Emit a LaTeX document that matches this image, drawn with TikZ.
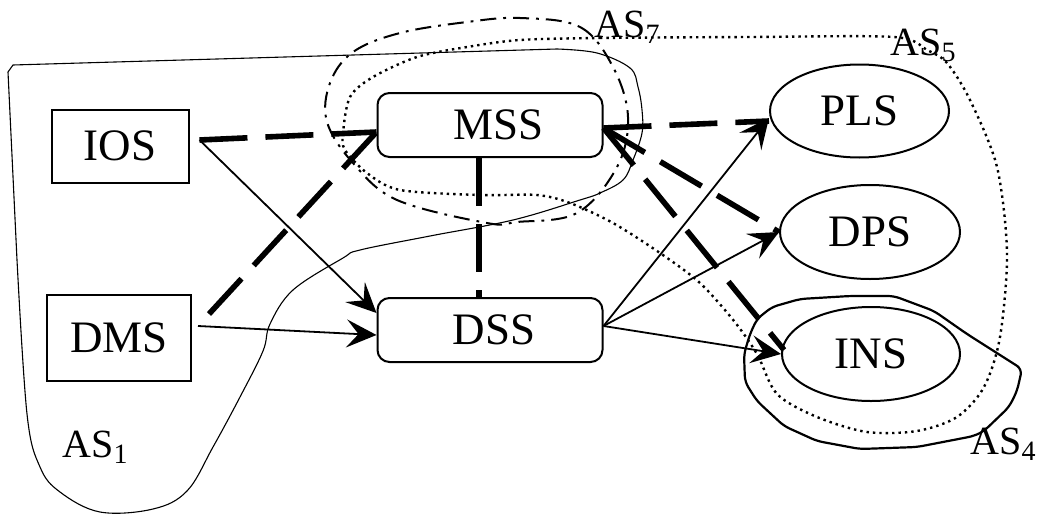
\documentclass[tikz,border=0pt]{standalone}
\usepackage{fontspec}
\setmainfont{Liberation Serif}
\usetikzlibrary{arrows.meta,shapes.geometric}
\begin{document}
\begin{tikzpicture}[x=0.5pt,y=-0.5pt,
  nodefont/.style={font=\fontsize{22.5}{27}\selectfont},
  sq/.style={nodefont,draw,line width=1pt,inner sep=0pt},
  rbox/.style={nodefont,draw,rounded corners=6pt,line width=1pt,inner sep=0pt,minimum width=112.5pt,minimum height=32pt},
  oval/.style={nodefont,draw,ellipse,line width=1pt,inner sep=0pt,minimum width=89.5pt,minimum height=46.5pt},
  flow/.style={line width=0.9pt,-{Stealth[length=15pt,width=14pt,inset=6pt]}},
  ctrl/.style={line width=2.8pt,dash pattern=on 24pt off 9pt},
  lbl/.style={font=\fontsize{20}{24}\selectfont,inner sep=0pt,anchor=base west},
  regA/.style={line width=0.55pt},
  regB/.style={line width=1.2pt,dash pattern=on 1.2pt off 2pt},
  regC/.style={line width=1pt,dash pattern=on 8pt off 3.5pt on 1.4pt off 3.5pt},
  regD/.style={line width=1.1pt}]
\useasboundingbox (0,0) rectangle (1037,514);

% regions
\draw[regA] (13,65) -- (557,49) -- plot[smooth,tension=0.6] coordinates {(557,49) (597,53) (630,68) (638,87) (642,110) (642,133) (633,160) (623,180) (600,193) (580,200) (513,220) (430,236) (360,250) (343,258) (293,290) (270,324) (263,351) (240,397) (213,447) (187,491) (153,509) (100,512) (60,492) (40,467) (27,414) (17,260)} -- (8,72) -- cycle;

\draw[regC] plot[smooth cycle,tension=0.6] coordinates {(520,18) (580,27) (613,67) (628,117) (617,167) (577,213) (517,222) (487,223) (397,200) (353,163) (327,122) (330,83) (353,52) (400,33) (467,22)};

\draw[regB] plot[smooth cycle,tension=0.5] coordinates {(520,40) (600,38) (750,37) (894,37) (927,50) (947,63) (970,100) (997,167) (1007,253) (1000,337) (984,387) (957,417) (917,431) (867,432) (817,417) (777,394) (757,354) (734,321) (700,283) (660,253) (613,223) (570,203) (537,195) (480,195) (400,190) (367,173) (345,150) (343,133) (350,97) (373,77) (417,57) (467,47)};

\draw[regD,rounded corners=3pt] (772,307) -- (800,299) -- (850,296) -- (894,296) -- (934,311) -- (967,334) -- (1022,369) -- (1017,391) -- (1009,407) -- (984,431) -- (974,436) -- (917,447) -- (860,449) -- (817,441) -- (784,426) -- (757,401) -- (745,382) -- (744,354) -- (750,334) -- (757,319) -- cycle;

% nodes
\node[sq,minimum width=68.5pt,minimum height=36.5pt] (IOS) at (120,146) {IOS};
\node[sq,minimum width=72pt,minimum height=43pt] (DMS) at (119,338) {DMS};
\node[rbox] (MSS) at (490,125) {\hspace{9pt}MSS};
\node[rbox] (DSS) at (490,330) {\hspace{4pt}DSS};
\node[oval] (PLS) at (859.5,111) {PLS};
\node[oval,minimum width=90pt,minimum height=47pt] (DPS) at (870,232) {DPS};
\node[oval,minimum width=89pt,minimum height=47pt] (INS) at (871,354) {INS};

% connectors
\draw[ctrl] ([shift={(10,-6)}]IOS.east) -- ([shift={(0,7)}]MSS.west);
\draw[ctrl] ([shift={(17,-24)}]DMS.east) -- ([shift={(0,7)}]MSS.west);
\draw[flow] ([shift={(10,-6)}]IOS.east) -- ([shift={(0,-17)}]DSS.west);
\draw[flow] ([shift={(6,-12)}]DMS.east) -- ([shift={(0,5)}]DSS.west);
\draw[ctrl] ([shift={(-11,0)}]MSS.south) -- ([shift={(-11,0)}]DSS.north);
\draw[ctrl] ([shift={(0,3)}]MSS.east) -- ([shift={(0,10)}]PLS.west);
\draw[ctrl] ([shift={(0,3)}]MSS.east) -- (DPS.west);
\draw[ctrl] ([shift={(0,3)}]MSS.east) -- ([shift={(3,-4)}]INS.west);
\draw[flow] ([shift={(0,-4)}]DSS.east) -- ([shift={(0,7)}]PLS.west);
\draw[flow] ([shift={(0,-4)}]DSS.east) -- (DPS.west);
\draw[flow] ([shift={(0,-4)}]DSS.east) -- (INS.west);

% labels
\node[lbl] (L1) at (62,457) {AS\textsubscript{1}};
\node[lbl] (L7) at (594,37) {AS\textsubscript{7}};
\node[lbl] (L5) at (890,55) {AS\textsubscript{5}};
\node[lbl] (L4) at (970,454) {AS\textsubscript{4}};
\end{tikzpicture}
\end{document}
